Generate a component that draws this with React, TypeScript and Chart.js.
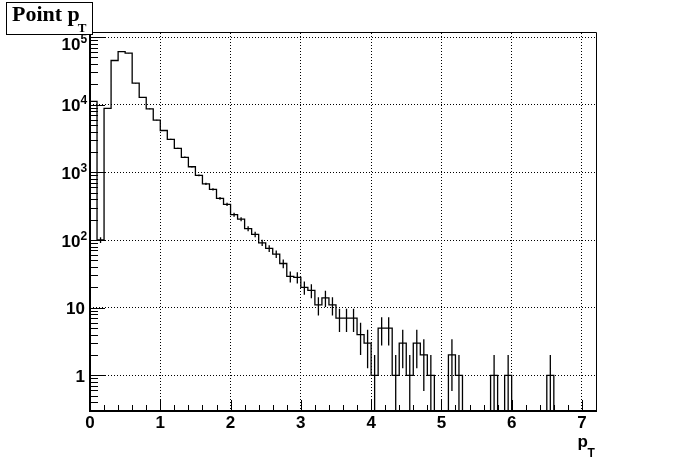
import React, { useEffect, useRef } from "react";
import { Chart, registerables } from "chart.js";

Chart.register(...registerables);

const binWidth = 0.1;
const xRange = [0, 7.2];
const yRange = [0.297, 114800];

// entries per 0.1-wide pT bin, starting at pT = 0
const counts = [
  11200, 100, 8820, 45000, 61100, 57700, 20800, 12800, 8670, 5900,
  4160, 3080, 2270, 1670, 1210, 903, 675, 561, 413, 337,
  237, 203, 147, 121, 91, 75, 62, 45, 29, 28,
  20, 18, 11, 14, 11, 7, 7, 7, 4, 3,
  1, 5, 5, 1, 3, 1, 3, 2, 1, 0,
  0, 2, 1, 0, 0, 0, 0, 1, 0, 1,
  0, 0, 0, 0, 0, 1, 0, 0, 0, 0,
  0, 0,
];

const xTickValues = [
  0, 0.2, 0.4, 0.6, 0.8, 1, 1.2, 1.4, 1.6, 1.8, 2, 2.2, 2.4, 2.6, 2.8, 3,
  3.2, 3.4, 3.6, 3.8, 4, 4.2, 4.4, 4.6, 4.8, 5, 5.2, 5.4, 5.6, 5.8, 6,
  6.2, 6.4, 6.6, 6.8, 7, 7.2,
];
const xTickLabels = ["0", "1", "2", "3", "4", "5", "6", "7"];
const yMajorValues = [1, 10, 100, 1000, 10000, 100000];
// [mantissa text, exponent text]
const yTickLabels: [string, string][] = [
  ["1", ""],
  ["10", ""],
  ["10", "2"],
  ["10", "3"],
  ["10", "4"],
  ["10", "5"],
];
const yMinorMultipliers = [2, 3, 4, 5, 6, 7, 8, 9];

const title = "Point p";
const titleSub = "T";
const xTitle = "p";
const xTitleSub = "T";

// ---- helpers ----
const FLOOR = 0.001; // empty bins drop below the frame (clipped)
const SANS = "'Liberation Sans', Arial, Helvetica, sans-serif";
const SERIF = "'Liberation Serif', 'Times New Roman', serif";

const isInt = (v: number) => Math.abs(v - Math.round(v)) < 1e-6;
const isPow10 = (v: number) => {
  const l = Math.log10(v);
  return Math.abs(l - Math.round(l)) < 1e-6;
};

function buildYTicks() {
  const vals: number[] = [];
  for (let d = 0.1; d <= 1e5 * 1.0001; d *= 10) {
    const base = Math.round(d * 1e6) / 1e6;
    vals.push(base);
    for (const m of yMinorMultipliers) vals.push(Math.round(base * m * 1e6) / 1e6);
  }
  return vals.filter((v) => v >= yRange[0] && v <= yRange[1]).sort((a, b) => a - b);
}

const framePlugin = {
  id: "rootFrame",
  afterDraw(chart: any) {
    const { ctx, chartArea: a, scales } = chart;
    const xs = scales.x;
    const ys = scales.y;
    ctx.save();
    ctx.strokeStyle = "#000";
    ctx.lineWidth = 1;
    ctx.setLineDash([]);
    ctx.beginPath();
    for (const t of xs.ticks) {
      const px = Math.round(xs.getPixelForValue(t.value)) + 0.5;
      const len = isInt(t.value) ? 11 : 6;
      ctx.moveTo(px, a.bottom);
      ctx.lineTo(px, a.bottom - len);
    }
    for (const t of ys.ticks) {
      const py = Math.round(ys.getPixelForValue(t.value)) + 0.5;
      const len = isPow10(t.value) ? 15 : 8;
      ctx.moveTo(a.left, py);
      ctx.lineTo(a.left + len, py);
    }
    ctx.stroke();

    // frame top / right
    ctx.beginPath();
    ctx.moveTo(a.left, a.top - 0.5);
    ctx.lineTo(a.right + 0.5, a.top - 0.5);
    ctx.lineTo(a.right + 0.5, a.bottom);
    ctx.stroke();

    // axes (left, bottom)
    ctx.lineWidth = 2;
    ctx.beginPath();
    ctx.moveTo(a.left, a.top - 1);
    ctx.lineTo(a.left, a.bottom);
    ctx.lineTo(a.right + 1, a.bottom);
    ctx.stroke();

    // y tick labels (ROOT style 10^n)
    ctx.fillStyle = "#000";
    ctx.textBaseline = "alphabetic";
    yMajorValues.forEach((v, i) => {
      const [mant, exp] = yTickLabels[i];
      let cy = ys.getPixelForValue(v);
      if (cy < a.top + 10) cy = a.top + 10;
      const base = cy + 6.5;
      ctx.font = `bold 17px ${SANS}`;
      if (exp) {
        ctx.textAlign = "right";
        ctx.fillText(mant, 80.5, base);
        ctx.font = `bold 12px ${SANS}`;
        ctx.textAlign = "left";
        ctx.fillText(exp, 80.5, base - 7);
      } else {
        ctx.textAlign = "right";
        ctx.fillText(mant, 85, base);
      }
    });

    // title box
    ctx.lineWidth = 1;
    ctx.fillStyle = "#fff";
    ctx.fillRect(6.5, 2.5, 86, 32);
    ctx.strokeRect(6.5, 2.5, 86, 32);
    ctx.fillStyle = "#000";
    ctx.textAlign = "left";
    ctx.font = `bold 22px ${SERIF}`;
    ctx.fillText(title, 12, 21);
    const w = ctx.measureText(title).width;
    ctx.font = `bold 13px ${SERIF}`;
    ctx.fillText(titleSub, 12 + w - 2, 32);

    // x-axis title
    ctx.font = `bold 17px ${SANS}`;
    ctx.fillText(xTitle, 577.5, 447);
    ctx.font = `bold 12px ${SANS}`;
    ctx.fillText(xTitleSub, 587.5, 457);
    ctx.restore();
  },
};

export default function App() {
  const ref = useRef<HTMLCanvasElement | null>(null);

  useEffect(() => {
    if (!ref.current) return;

    const stepData: { x: number; y: number }[] = counts.map((c, i) => ({
      x: +(i * binWidth).toFixed(4),
      y: c > 0 ? c : FLOOR,
    }));
    stepData.push({ x: xRange[1], y: counts[counts.length - 1] > 0 ? counts[counts.length - 1] : FLOOR });

    const errData: { x: number; y: number | null }[] = [];
    counts.forEach((c, i) => {
      if (c <= 0) return;
      const cx = +((i + 0.5) * binWidth).toFixed(4);
      const e = Math.sqrt(c);
      errData.push({ x: cx, y: c - e > 0 ? c - e : FLOOR });
      errData.push({ x: cx, y: c + e });
      errData.push({ x: cx, y: null });
    });

    const yTicks = buildYTicks();

    const chart = new Chart(ref.current, {
      type: "line",
      data: {
        datasets: [
          {
            data: stepData,
            stepped: true,
            borderColor: "#000",
            borderWidth: 1.3,
            pointRadius: 0,
            fill: false,
            clip: 0,
          } as any,
          {
            data: errData,
            borderColor: "#000",
            borderWidth: 1.3,
            pointRadius: 0,
            fill: false,
            spanGaps: false,
            clip: 0,
          } as any,
        ],
      },
      plugins: [framePlugin as any],
      options: {
        responsive: false,
        maintainAspectRatio: false,
        animation: false,
        devicePixelRatio: 1,
        events: [],
        layout: { padding: { left: 0, right: 100, top: 33, bottom: 0 } },
        plugins: {
          legend: { display: false },
          tooltip: { enabled: false },
          title: { display: false },
        },
        scales: {
          x: {
            type: "linear",
            min: xRange[0],
            max: xRange[1],
            afterBuildTicks: (s: any) => {
              s.ticks = xTickValues.map((v) => ({ value: v }));
            },
            afterFit: (s: any) => {
              s.height = 63;
            },
            ticks: {
              autoSkip: false,
              maxRotation: 0,
              padding: 2,
              color: "#000",
              font: { family: SANS, size: 17, weight: "bold" },
              callback: (v: any) => (isInt(v) ? xTickLabels[Math.round(v)] ?? "" : ""),
            },
            grid: {
              drawTicks: false,
              lineWidth: 1,
              color: (c: any) =>
                c.tick && isInt(c.tick.value) && c.tick.value > 0 && c.tick.value < xRange[1]
                  ? "#000"
                  : "rgba(0,0,0,0)",
            },
            border: { display: false, dash: [1, 2] },
          },
          y: {
            type: "logarithmic",
            min: yRange[0],
            max: yRange[1],
            afterBuildTicks: (s: any) => {
              s.ticks = yTicks.map((v) => ({ value: v }));
            },
            afterFit: (s: any) => {
              s.width = 90;
            },
            ticks: {
              display: false,
              autoSkip: false,
            },
            grid: {
              drawTicks: false,
              lineWidth: 1,
              color: (c: any) =>
                c.tick && isPow10(c.tick.value) && c.tick.value >= 1 ? "#000" : "rgba(0,0,0,0)",
            },
            border: { display: false, dash: [1, 2] },
          },
        },
      } as any,
    });

    return () => chart.destroy();
  }, []);

  return (
    <div style={{ position: "absolute", left: 0, top: 0, width: 696, height: 474, background: "#fff" }}>
      <canvas ref={ref} width={696} height={474} style={{ display: "block", width: 696, height: 474 }} />
    </div>
  );
}
